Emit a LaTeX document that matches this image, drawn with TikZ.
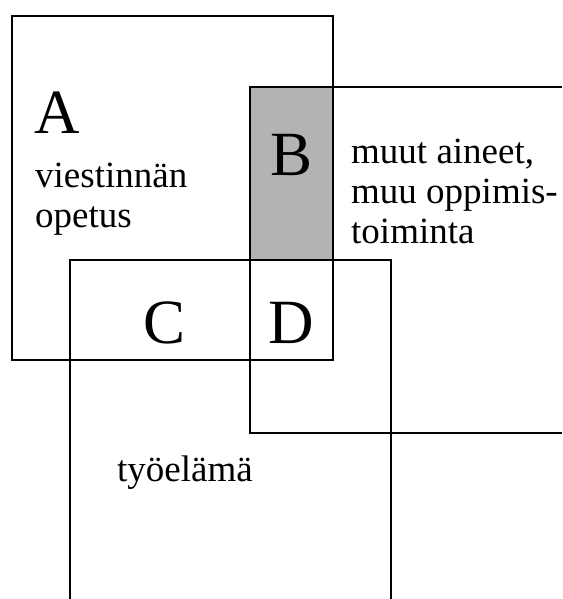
\documentclass[tikz,border=0pt]{standalone}
\usepackage{fontspec}
\setmainfont{Liberation Serif}
\definecolor{cellgray}{RGB}{179,179,179}
\begin{document}
\begin{tikzpicture}[x=1pt,y=-1pt,
  frame/.style={line width=1.6pt,line join=miter},
  big/.style={anchor=base west,inner sep=0pt,font=\fontsize{63}{63}\selectfont},
  small/.style={anchor=base west,inner sep=0pt,font=\fontsize{37}{40}\selectfont}]
\useasboundingbox (0,0) rectangle (562,599);
\fill[cellgray] (250,87) rectangle (333,260);
\draw[frame] (12,16) rectangle (333,360);
\draw[frame] (562,87) -- (250,87) -- (250,433) -- (562,433);
\draw[frame] (70,599) -- (70,260) -- (391,260) -- (391,599);
\node[big] (la) at (34,133) {A};
\node[small] (va) at (35,187) {viestinnän};
\node[small] (vb) at (35,227) {opetus};
\node[big] (lb) at (270,175) {B};
\node[small] (ma) at (351,163) {muut aineet,};
\node[small] (mb) at (351,203) {muu oppimis-};
\node[small] (mc) at (351,243) {toiminta};
\node[big] (lc) at (143,343) {C};
\node[big] (ld) at (268,343) {D};
\node[small] (ty) at (117,481) {työelämä};
\end{tikzpicture}
\end{document}
